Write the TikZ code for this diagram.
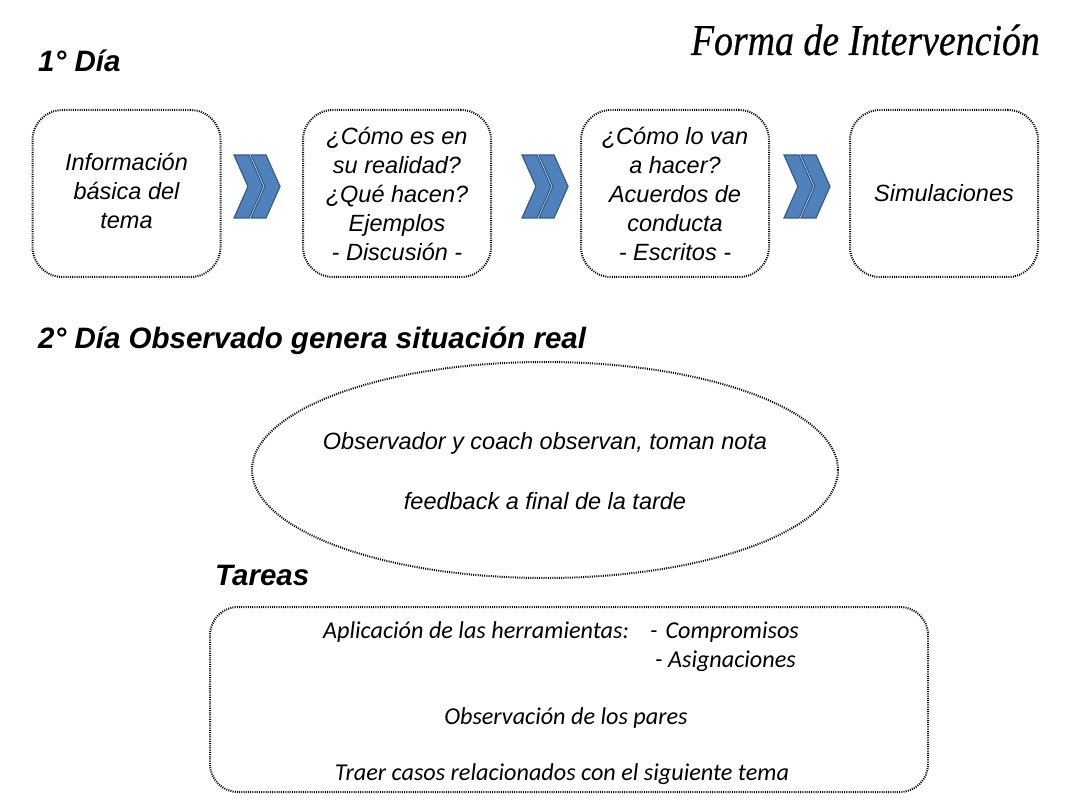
\documentclass[tikz,border=0pt]{standalone}
\usepackage{fontspec}
\usepackage{graphicx}
\setmainfont{Liberation Sans}
\newfontfamily\titlefont[FakeBold=0.5]{Liberation Serif}
\newfontfamily\calfont{Carlito}
\usetikzlibrary{shapes.geometric}
\definecolor{chevfill}{HTML}{4F81BD}
\definecolor{chevline}{HTML}{385D8A}
\tikzset{
  dotborder/.style={draw=black, line width=2pt, dash pattern=on 1pt off 1.2pt},
  stepbox/.style={dotborder, rounded corners=30pt, minimum width=188pt, minimum height=167pt,
    align=center, inner sep=0pt, font=\itshape\fontsize{23.5}{29}\selectfont},
  heading/.style={anchor=base west, inner sep=0pt, font=\bfseries\itshape\fontsize{29.5}{34}\selectfont},
  bodytext/.style={inner sep=0pt, font=\itshape\fontsize{23.5}{29}\selectfont},
  caltext/.style={inner sep=0pt, anchor=base west, font=\calfont\itshape\fontsize{24.2}{28}\selectfont},
  chevpart/.style={fill=chevfill, draw=chevline, line width=1.2pt, line join=miter},
  chevrons/.pic={
    \path[chevpart] (0,0) -- (15,0) -- (29,31.5) -- (15,63) -- (0,63) -- (14,31.5) -- cycle;
    \path[chevpart] (17,0) -- (32,0) -- (46,31.5) -- (32,63) -- (17,63) -- (31,31.5) -- cycle;
  }
}
\begin{document}
\begin{tikzpicture}[x=1pt,y=-1pt]
\useasboundingbox (0,0) rectangle (1080,810);

\node[anchor=base east, inner sep=0pt] (title) at (1040,55)
  {\scalebox{0.86}[1]{\titlefont\itshape\fontsize{44}{50}\selectfont Forma de Intervención}};

\node[heading] (day1) at (38,72) {1° Día};

\node[stepbox] (b1) at (126.5,193.5) {\raisebox{2pt}{\begin{tabular}{@{}c@{}}Información\\básica del\\tema\end{tabular}}};
\node[stepbox] (b2) at (397,193.5) {¿Cómo es en\\su realidad?\\¿Qué hacen?\\Ejemplos\\- Discusión -};
\node[stepbox] (b3) at (675,193.5) {¿Cómo lo van\\a hacer?\\Acuerdos de\\conducta\\- Escritos -};
\node[stepbox] (b4) at (944,193.5) {Simulaciones};

\pic at (234,155) {chevrons};
\pic at (522,155) {chevrons};
\pic at (784,155) {chevrons};

\node[heading] (day2) at (38,349) {2° Día Observado genera situación real};

\node[ellipse, dotborder, minimum width=586pt, minimum height=216pt, inner sep=0pt] (obs) at (545,470) {};
\node[bodytext] (obs1) at (545,443) {Observador y coach observan, toman nota};
\node[bodytext] (obs2) at (545,501) {feedback a final de la tarde};

\node[heading] (tareas) at (215,585) {Tareas};

\node[dotborder, rounded corners=28pt, minimum width=718pt, minimum height=185pt, inner sep=0pt] (tbox) at (569,699.5) {};
\node[caltext] (t1) at (323,638) {Aplicación de las herramientas:};
\node[caltext] (t1b) at (650,638) {-\hspace{8pt}Compromisos};
\node[caltext] (t2) at (655,667) {- Asignaciones};
\node[caltext, anchor=base] (t3) at (566,724) {Observación de los pares};
\node[caltext, anchor=base] (t4) at (562,780) {Traer casos relacionados con el siguiente tema};
\end{tikzpicture}
\end{document}
